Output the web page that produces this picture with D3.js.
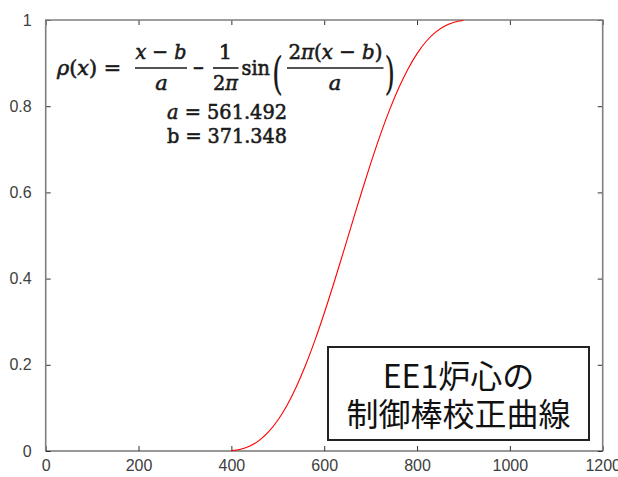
<!DOCTYPE html>
<html>
<head>
<meta charset="utf-8">
<script src="https://cdn.jsdelivr.net/npm/d3@7"></script>
<style>
  html, body { margin: 0; padding: 0; background: #fff; }
  svg { display: block; }
</style>
</head>
<body>
<svg id="chart" width="618" height="477"></svg>
<script>
// Control rod position (x) and relative integral worth rho(x)
const rodPosition = [400, 420, 440, 460, 480, 500, 520, 540, 560, 580, 600, 620, 640,
  660, 680, 700, 720, 740, 760, 780, 800, 820, 840, 860, 880, 900];
const rodWorth = [0.00087, 0.00422, 0.01168, 0.02465, 0.04427, 0.07134, 0.10627, 0.14911,
  0.19950, 0.25669, 0.31961, 0.38690, 0.45699, 0.52814, 0.59860, 0.66661, 0.73057,
  0.78906, 0.84094, 0.88541, 0.92201, 0.95070, 0.97182, 0.98611, 0.99461, 0.99869];

const xTicks = [0, 200, 400, 600, 800, 1000, 1200];
const yTicks = [0, 0.2, 0.4, 0.6, 0.8, 1];
const xTickLabels = ["0", "200", "400", "600", "800", "1000", "1200"];
const yTickLabels = ["0", "0.2", "0.4", "0.6", "0.8", "1"];

const fitA = "561.492";
const fitB = "371.348";
const titleLines = ["EE1炉心の", "制御棒校正曲線"];

const svg = d3.select("#chart");
const plot = { left: 45.7, right: 602.7, top: 20, bottom: 451 };

const x = d3.scaleLinear().domain([0, 1200]).range([plot.left, plot.right]);
const y = d3.scaleLinear().domain([0, 1]).range([plot.bottom, plot.top]);

const labelFont = "'Liberation Sans', Arial, sans-serif";

// Axes with inward ticks on all four sides
const bottomAxis = svg.append("g")
  .attr("transform", `translate(0,${plot.bottom})`)
  .call(d3.axisBottom(x).tickValues(xTicks)
    .tickFormat((d, i) => xTickLabels[i])
    .tickSizeInner(-5).tickSizeOuter(0).tickPadding(9));

const leftAxis = svg.append("g")
  .attr("transform", `translate(${plot.left},0)`)
  .call(d3.axisLeft(y).tickValues(yTicks)
    .tickFormat((d, i) => yTickLabels[i])
    .tickSizeInner(-5).tickSizeOuter(0).tickPadding(14));

const topAxis = svg.append("g")
  .attr("transform", `translate(0,${plot.top})`)
  .call(d3.axisTop(x).tickValues(xTicks).tickFormat("")
    .tickSizeInner(-5).tickSizeOuter(0));

const rightAxis = svg.append("g")
  .attr("transform", `translate(${plot.right},0)`)
  .call(d3.axisRight(y).tickValues(yTicks).tickFormat("")
    .tickSizeInner(-5).tickSizeOuter(0));

[bottomAxis, leftAxis, topAxis, rightAxis].forEach(g => {
  g.select(".domain").remove();
  g.selectAll(".tick line").attr("stroke", "#333").attr("stroke-width", 1);
  g.selectAll(".tick text")
    .attr("font-family", labelFont)
    .attr("font-size", 16)
    .attr("fill", "#404040");
});

// Frame
svg.append("path")
  .attr("d", `M${plot.left},${plot.bottom}V${plot.top}H${plot.right}V${plot.bottom}`)
  .attr("fill", "none").attr("stroke", "#7f7f7f").attr("stroke-width", 1.6);
svg.append("line")
  .attr("x1", plot.left).attr("x2", plot.right)
  .attr("y1", plot.bottom).attr("y2", plot.bottom)
  .attr("stroke", "#333").attr("stroke-width", 1.2);

// Calibration curve
const line = d3.line()
  .x((d, i) => x(rodPosition[i]))
  .y(d => y(d))
  .curve(d3.curveMonotoneX);

svg.append("path")
  .datum(rodWorth)
  .attr("d", line)
  .attr("fill", "none")
  .attr("stroke", "#ff0000")
  .attr("stroke-width", 1.1);

// Fit formula
const mathFont = "'DejaVu Serif', 'Liberation Serif', serif";
const ink = "#1a1a1a";
const eq = svg.append("g")
  .attr("font-family", mathFont)
  .attr("fill", ink)
  .attr("stroke", ink)
  .attr("stroke-width", 0.6);

function mathText(parent, px, py, parts, size, anchor, width) {
  const t = parent.append("text")
    .attr("x", px).attr("y", py)
    .attr("font-size", size)
    .attr("text-anchor", anchor || "start");
  if (width) t.attr("textLength", width).attr("lengthAdjust", "spacingAndGlyphs");
  parts.forEach(p => {
    t.append("tspan")
      .attr("font-style", p[1] ? "italic" : "normal")
      .text(p[0]);
  });
  return t;
}

function fracBar(parent, x1, x2, yy) {
  parent.append("line")
    .attr("x1", x1).attr("x2", x2).attr("y1", yy).attr("y2", yy)
    .attr("stroke", ink).attr("stroke-width", 1.6);
}

const fs = 21;
mathText(eq, 57, 75, [["ρ", true], ["(", false], ["x", true], [") =", false]], fs, "start", 64);

// (x - b) / a
mathText(eq, 161, 59, [["x", true], [" − ", false], ["b", true]], fs, "middle", 51);
fracBar(eq, 135, 187, 68);
mathText(eq, 161.5, 90, [["a", true]], fs, "middle");

// minus
mathText(eq, 198.5, 75, [["−", false]], fs, "middle", 12);

// 1 / 2π
mathText(eq, 225.5, 59, [["1", false]], fs, "middle");
fracBar(eq, 213, 238.5, 68);
mathText(eq, 225.5, 90, [["2", false], ["π", true]], fs, "middle", 25);

// sin
mathText(eq, 241.5, 75, [["sin", false]], fs, "start", 28.5);

// large parentheses
eq.append("text").attr("x", 272).attr("y", 89)
  .attr("font-size", 44).attr("stroke-width", 0.2)
  .attr("textLength", 11).attr("lengthAdjust", "spacingAndGlyphs").text("(");
eq.append("text").attr("x", 384.5).attr("y", 89)
  .attr("font-size", 44).attr("stroke-width", 0.2)
  .attr("textLength", 10.5).attr("lengthAdjust", "spacingAndGlyphs").text(")");

// 2π(x - b) / a
mathText(eq, 335.5, 59, [["2", false], ["π", true], ["(", false], ["x", true], [" − ", false], ["b", true], [")", false]], fs, "middle", 94);
fracBar(eq, 287, 383.5, 68);
mathText(eq, 335, 90, [["a", true]], fs, "middle");

// fitted parameters
mathText(eq, 227, 119, [["a", true], [" = " + fitA, false]], fs, "middle", 120);
mathText(eq, 227, 142.5, [["b = " + fitB, false]], fs, "middle", 120);

// Title box
const box = svg.append("g");
box.append("rect")
  .attr("x", 328).attr("y", 347).attr("width", 261).attr("height", 93)
  .attr("fill", "#fff").attr("stroke", "#222").attr("stroke-width", 2);
box.selectAll("text.title")
  .data(titleLines)
  .join("text")
  .attr("class", "title")
  .attr("x", 458.5)
  .attr("y", (d, i) => 374 + i * 38)
  .attr("dominant-baseline", "central")
  .attr("text-anchor", "middle")
  .attr("font-family", "'Noto Sans CJK JP', sans-serif")
  .attr("font-size", 32)
  .attr("fill", "#111")
  .text(d => d);
</script>
</body>
</html>
